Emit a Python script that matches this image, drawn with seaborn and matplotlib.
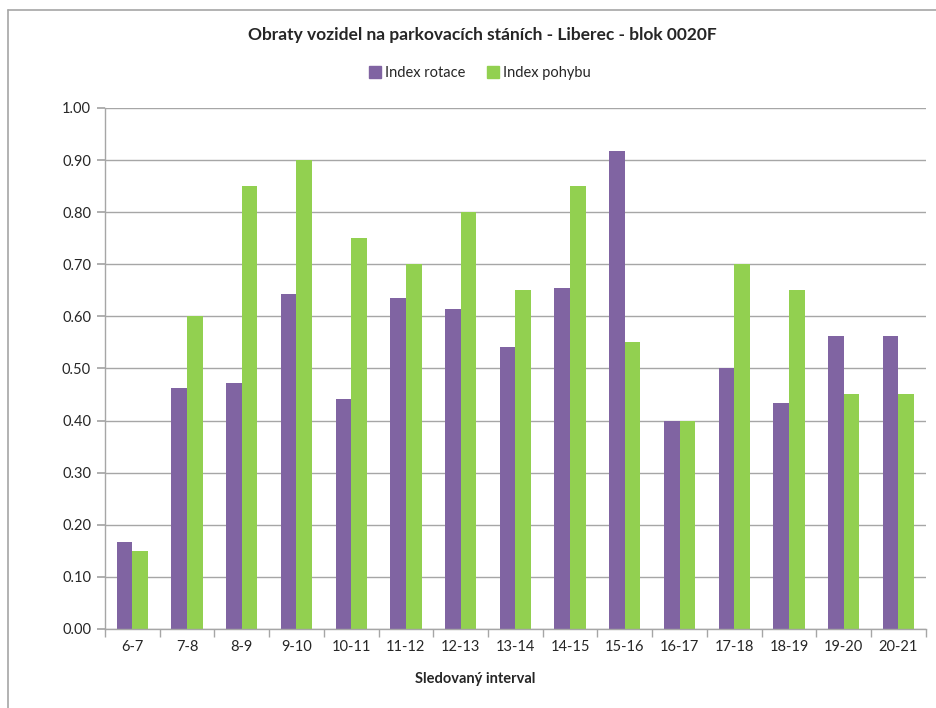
import pandas as pd
import matplotlib
matplotlib.use("Agg")
import matplotlib.pyplot as plt
from matplotlib.lines import Line2D
import seaborn as sns

# data
intervals = ["6-7", "7-8", "8-9", "9-10", "10-11", "11-12", "12-13", "13-14",
             "14-15", "15-16", "16-17", "17-18", "18-19", "19-20", "20-21"]
index_rotace = [0.167, 0.462, 0.472, 0.643, 0.441, 0.636, 0.615, 0.542,
                0.654, 0.917, 0.400, 0.500, 0.433, 0.563, 0.563]
index_pohybu = [0.15, 0.60, 0.85, 0.90, 0.75, 0.70, 0.80, 0.65,
                0.85, 0.55, 0.40, 0.70, 0.65, 0.45, 0.45]
series_names = ["Index rotace", "Index pohybu"]
colors = ["#8064A2", "#92D050"]

df = pd.DataFrame({
    "interval": intervals * 2,
    "value": index_rotace + index_pohybu,
    "serie": [series_names[0]] * len(intervals) + [series_names[1]] * len(intervals),
})

sns.set_theme(style="white")
plt.rcParams["font.family"] = ["Lato", "DejaVu Sans"]

fig = plt.figure(figsize=(9.37, 7.08), dpi=100)
ax = fig.add_axes([0.112, 0.1116, 0.876, 0.736])

sns.barplot(data=df, x="interval", y="value", hue="serie", order=intervals,
            hue_order=series_names, palette=colors, width=0.57, ax=ax,
            saturation=1, legend=False, linewidth=0)

ax.set_ylim(0, 1.0)
ax.set_xlim(-0.5, len(intervals) - 0.5)
ax.set_yticks([i / 10 for i in range(11)])
ax.set_yticklabels([f"{i / 10:.2f}" for i in range(11)], fontsize=10.5)
ax.yaxis.grid(True, color="#A6A6A6", linewidth=1)
ax.set_axisbelow(True)
for s in ["top", "right"]:
    ax.spines[s].set_visible(False)
for s in ["left", "bottom"]:
    ax.spines[s].set_color("#A6A6A6")
    ax.spines[s].set_linewidth(1)

# category ticks sit between groups, pointing down
ax.set_xticks([i + 0.5 for i in range(-1, len(intervals))], minor=True)
ax.tick_params(axis="x", which="minor", length=6, color="#A6A6A6", direction="out", bottom=True)
ax.tick_params(axis="x", which="major", length=0, labelsize=10.5, pad=8)
ax.tick_params(axis="y", length=6, color="#A6A6A6", direction="out", left=True, labelsize=10.5, pad=4)

ax.set_xlabel("")
ax.set_ylabel("")
fig.text(475 / 937, 1 - 679 / 708, "Sledovaný interval", ha="center", va="center",
         fontsize=10.5, fontweight="bold")

fig.text(482 / 937, 0.951, "Obraty vozidel na parkovacích stáních - Liberec - blok 0020F",
         ha="center", va="center", fontsize=12.5, fontweight="bold")

handles = [Line2D([], [], marker="s", linestyle="", markersize=8,
                  markerfacecolor=c, markeredgecolor=c) for c in colors]
fig.legend(handles, series_names, loc="center", bbox_to_anchor=(479 / 937, 0.897),
           ncol=2, frameon=False, fontsize=10.5, handletextpad=0.2, columnspacing=1.4,
           handlelength=1.0)

# outer frame lines (top and left) like the source
fig.add_artist(Line2D([8 / 937, 1.0], [1 - 10 / 708, 1 - 10 / 708], color="#A6A6A6", linewidth=1.2))
fig.add_artist(Line2D([8 / 937, 8 / 937], [0.0, 1 - 10 / 708], color="#A6A6A6", linewidth=1.2))

fig.savefig("out.png", dpi=100)
